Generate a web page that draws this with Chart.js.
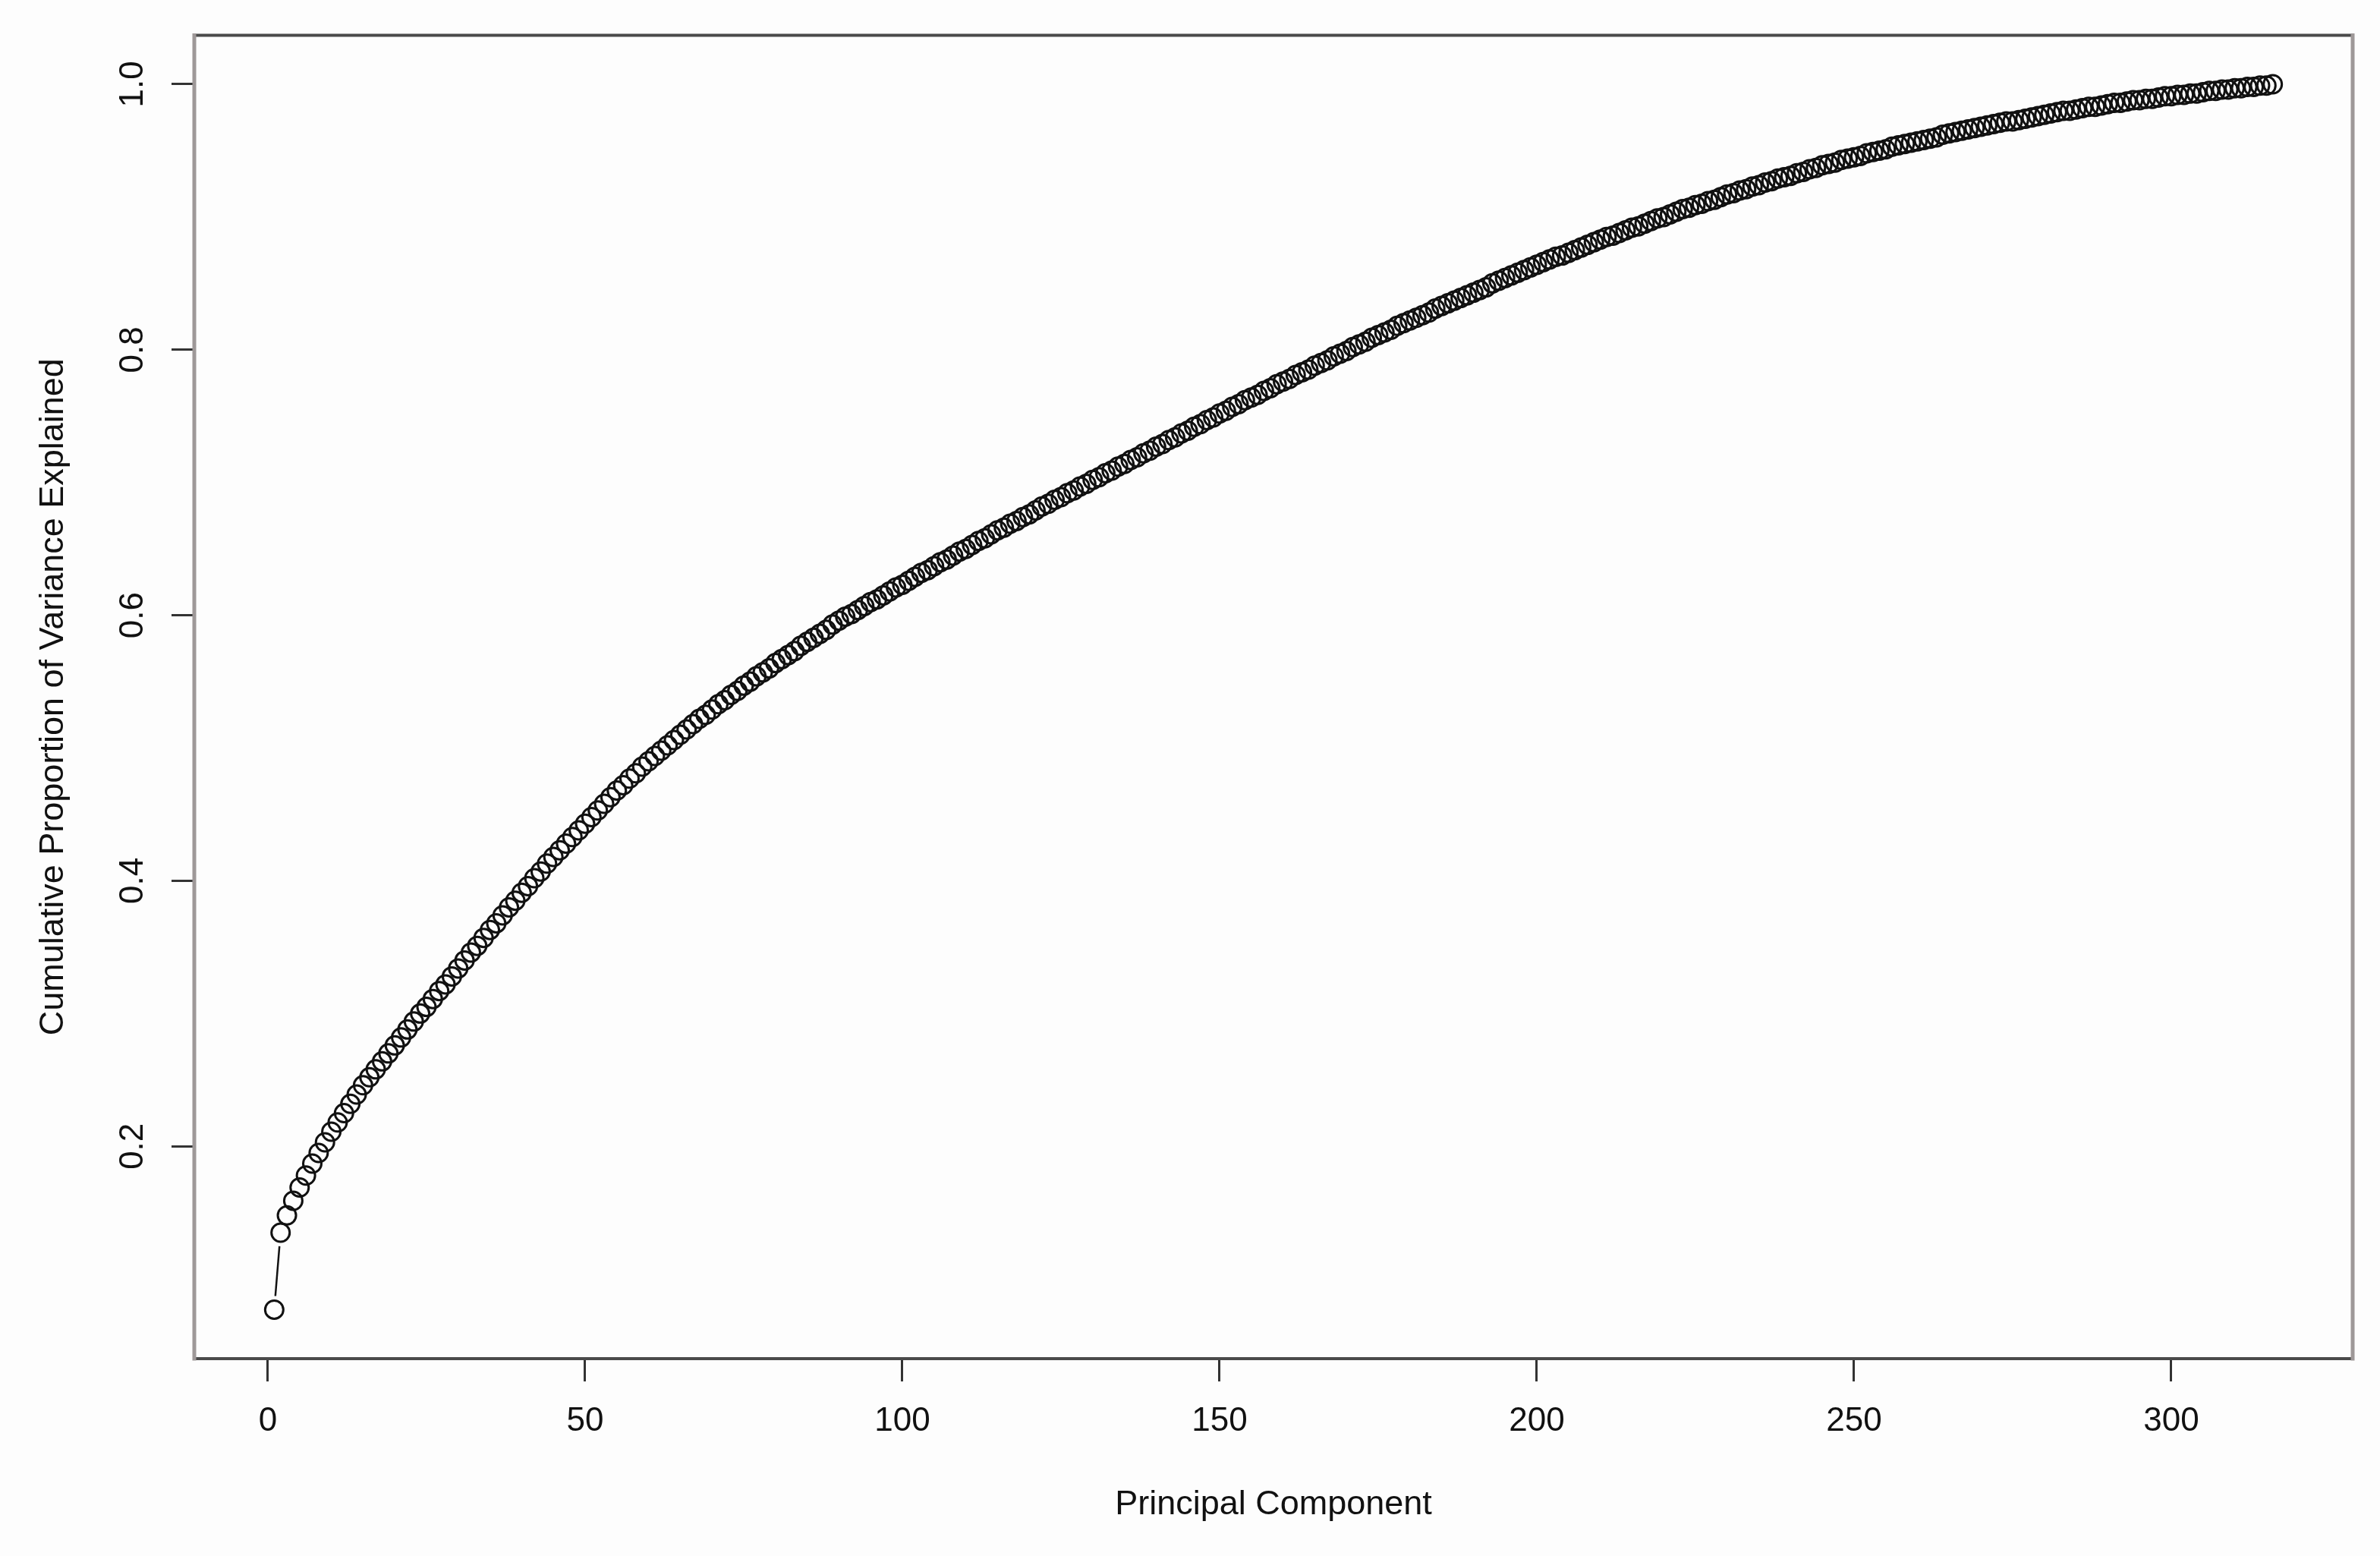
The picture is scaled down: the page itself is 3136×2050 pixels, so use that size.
<!DOCTYPE html>
<html>
<head>
<meta charset="utf-8">
<script src="https://cdn.jsdelivr.net/npm/chart.js@4/dist/chart.umd.min.js"></script>
<style>
  html, body { margin: 0; padding: 0; background: #fdfdfd; }
  canvas { display: block; }
</style>
</head>
<body>
<canvas id="pve" width="3136" height="2050"></canvas>
<script>
// cumulative proportion of variance explained, one value per principal component (1..316)
const cumVar = [
  0.077, 0.135, 0.148, 0.159, 0.169, 0.178, 0.187, 0.195, 0.203, 0.211, 0.218, 0.225, 0.232, 0.239, 0.246, 0.252, 0.258, 0.264,
  0.270, 0.276, 0.282, 0.288, 0.294, 0.300, 0.305, 0.311, 0.317, 0.322, 0.328, 0.334,
  0.340, 0.346, 0.351, 0.357, 0.363, 0.368, 0.374, 0.380, 0.385, 0.391, 0.396, 0.402,
  0.407, 0.413, 0.418, 0.423, 0.428, 0.433, 0.438, 0.443, 0.448, 0.453, 0.458, 0.463,
  0.468, 0.472, 0.477, 0.481, 0.486, 0.490, 0.494, 0.498, 0.502, 0.506, 0.510, 0.514,
  0.518, 0.522, 0.525, 0.529, 0.533, 0.536, 0.540, 0.543, 0.547, 0.550, 0.554, 0.557,
  0.560, 0.564, 0.567, 0.570, 0.573, 0.577, 0.580, 0.583, 0.586, 0.589, 0.593, 0.596,
  0.599, 0.601, 0.604, 0.607, 0.610, 0.612, 0.615, 0.618, 0.621, 0.623, 0.626, 0.629,
  0.632, 0.634, 0.637, 0.640, 0.642, 0.645, 0.648, 0.650, 0.653, 0.656, 0.658, 0.661,
  0.664, 0.666, 0.669, 0.671, 0.674, 0.676, 0.679, 0.682, 0.684, 0.687, 0.689, 0.692,
  0.694, 0.697, 0.699, 0.702, 0.704, 0.707, 0.709, 0.712, 0.714, 0.717, 0.719, 0.722,
  0.724, 0.727, 0.729, 0.732, 0.734, 0.737, 0.739, 0.742, 0.744, 0.747, 0.749, 0.752,
  0.754, 0.757, 0.759, 0.762, 0.764, 0.766, 0.769, 0.771, 0.774, 0.776, 0.778, 0.781,
  0.783, 0.785, 0.788, 0.790, 0.792, 0.795, 0.797, 0.799, 0.802, 0.804, 0.806, 0.809,
  0.811, 0.813, 0.815, 0.818, 0.820, 0.822, 0.824, 0.826, 0.828, 0.831, 0.833, 0.835,
  0.837, 0.839, 0.841, 0.843, 0.845, 0.847, 0.850, 0.852, 0.854, 0.856, 0.858, 0.860,
  0.862, 0.864, 0.866, 0.868, 0.870, 0.871, 0.873, 0.875, 0.877, 0.879, 0.881, 0.883,
  0.885, 0.886, 0.888, 0.890, 0.892, 0.893, 0.895, 0.897, 0.899, 0.900, 0.902, 0.904,
  0.906, 0.907, 0.909, 0.910, 0.912, 0.913, 0.915, 0.917, 0.918, 0.920, 0.921, 0.923,
  0.924, 0.926, 0.927, 0.929, 0.930, 0.931, 0.933, 0.934, 0.936, 0.937, 0.939, 0.940,
  0.941, 0.943, 0.944, 0.945, 0.946, 0.948, 0.949, 0.950, 0.951, 0.953, 0.954, 0.955,
  0.956, 0.957, 0.958, 0.959, 0.960, 0.962, 0.963, 0.964, 0.965, 0.966, 0.967, 0.968,
  0.969, 0.970, 0.971, 0.972, 0.972, 0.973, 0.974, 0.975, 0.976, 0.977, 0.978, 0.979,
  0.980, 0.980, 0.981, 0.982, 0.983, 0.983, 0.984, 0.985, 0.986, 0.986, 0.987, 0.988,
  0.988, 0.989, 0.989, 0.990, 0.991, 0.991, 0.992, 0.992, 0.993, 0.993, 0.994, 0.995,
  0.995, 0.996, 0.996, 0.997, 0.997, 0.998, 0.998, 0.999, 0.999, 1.000
];

const xTicks = [0, 50, 100, 150, 200, 250, 300];
const yTicks = [0.2, 0.4, 0.6, 0.8, 1.0];
const xTitle = "Principal Component";
const yTitle = "Cumulative Proportion of Variance Explained";

// R style limits: data range padded by 4% on each side
const xPad = (cumVar.length - 1) * 0.04;
const yLo = Math.min(...cumVar), yHi = Math.max(...cumVar);
const yPad = (yHi - yLo) * 0.04;

const pointRadius = 12;
const fontFamily = "'Liberation Sans', Arial, Helvetica, sans-serif";

// box around the plot region
const boxPlugin = {
    id: "box",
    afterDraw(chart) {
        const {ctx, chartArea: a} = chart;
        ctx.save();
        ctx.lineCap = "square";
        ctx.strokeStyle = "#4a4a4a";
        ctx.lineWidth = 4;
        ctx.beginPath();
        ctx.moveTo(a.left, a.top); ctx.lineTo(a.right, a.top);
        ctx.moveTo(a.left, a.bottom); ctx.lineTo(a.right, a.bottom);
        ctx.stroke();
        ctx.strokeStyle = "#9e9898";
        ctx.lineWidth = 5;
        ctx.beginPath();
        ctx.moveTo(a.left, a.top); ctx.lineTo(a.left, a.bottom);
        ctx.moveTo(a.right, a.top); ctx.lineTo(a.right, a.bottom);
        ctx.stroke();
        ctx.restore();
    }
};

// type = "b": connecting lines only where the gap between points leaves room
const gapLinePlugin = {
    id: "gapLines",
    afterDatasetsDraw(chart) {
        const pts = chart.getDatasetMeta(0).data;
        const ctx = chart.ctx;
        const gap = pointRadius + 6;
        ctx.save();
        ctx.strokeStyle = "#111";
        ctx.lineWidth = 2.5;
        for (let i = 0; i < pts.length - 1; i++) {
            const p0 = pts[i], p1 = pts[i + 1];
            const dx = p1.x - p0.x, dy = p1.y - p0.y;
            const d = Math.hypot(dx, dy);
            if (d <= 2 * gap) continue;
            const ux = dx / d, uy = dy / d;
            ctx.beginPath();
            ctx.moveTo(p0.x + ux * gap, p0.y + uy * gap);
            ctx.lineTo(p1.x - ux * gap, p1.y - uy * gap);
            ctx.stroke();
        }
        ctx.restore();
    }
};

new Chart(document.getElementById("pve"), {
    type: "scatter",
    data: {
        datasets: [{
            label: "PVE",
            data: cumVar.map((v, i) => ({x: i + 1, y: v})),
            showLine: false,
            pointStyle: "circle",
            pointRadius: pointRadius,
            pointBorderWidth: 3,
            pointBorderColor: "#111",
            pointBackgroundColor: "rgba(0,0,0,0)"
        }]
    },
    options: {
        responsive: false,
        animation: false,
        layout: { padding: { left: 0, top: 42, right: 36, bottom: 0 } },
        plugins: {
            legend: { display: false },
            tooltip: { enabled: false }
        },
        scales: {
            x: {
                type: "linear",
                min: 1 - xPad,
                max: cumVar.length + xPad,
                afterBuildTicks: axis => { axis.ticks = xTicks.map(v => ({value: v})); },
                afterFit: axis => { axis.height = 260; },
                border: { display: false },
                grid: { drawOnChartArea: false, drawTicks: true, tickLength: 30, tickWidth: 3, tickColor: "#333" },
                ticks: {
                    color: "#111",
                    padding: 26,
                    maxRotation: 0,
                    font: { family: fontFamily, size: 44 },
                    callback: v => String(v)
                },
                title: {
                    display: true,
                    text: xTitle,
                    color: "#111",
                    padding: { top: 0, bottom: 40 },
                    font: { family: fontFamily, size: 45 }
                }
            },
            y: {
                type: "linear",
                min: yLo - yPad,
                max: yHi + yPad,
                afterBuildTicks: axis => { axis.ticks = yTicks.map(v => ({value: v})); },
                afterFit: axis => { axis.width = 256; },
                border: { display: false },
                grid: { drawOnChartArea: false, drawTicks: true, tickLength: 30, tickWidth: 3, tickColor: "#333" },
                ticks: {
                    color: "#111",
                    padding: 20,
                    minRotation: 90,
                    maxRotation: 90,
                    crossAlign: "center",
                    font: { family: fontFamily, size: 44 },
                    callback: v => v.toFixed(1)
                },
                title: {
                    display: true,
                    text: yTitle,
                    color: "#111",
                    padding: { top: 44, bottom: 0 },
                    font: { family: fontFamily, size: 45 }
                }
            }
        }
    },
    plugins: [boxPlugin, gapLinePlugin]
});
</script>
</body>
</html>
